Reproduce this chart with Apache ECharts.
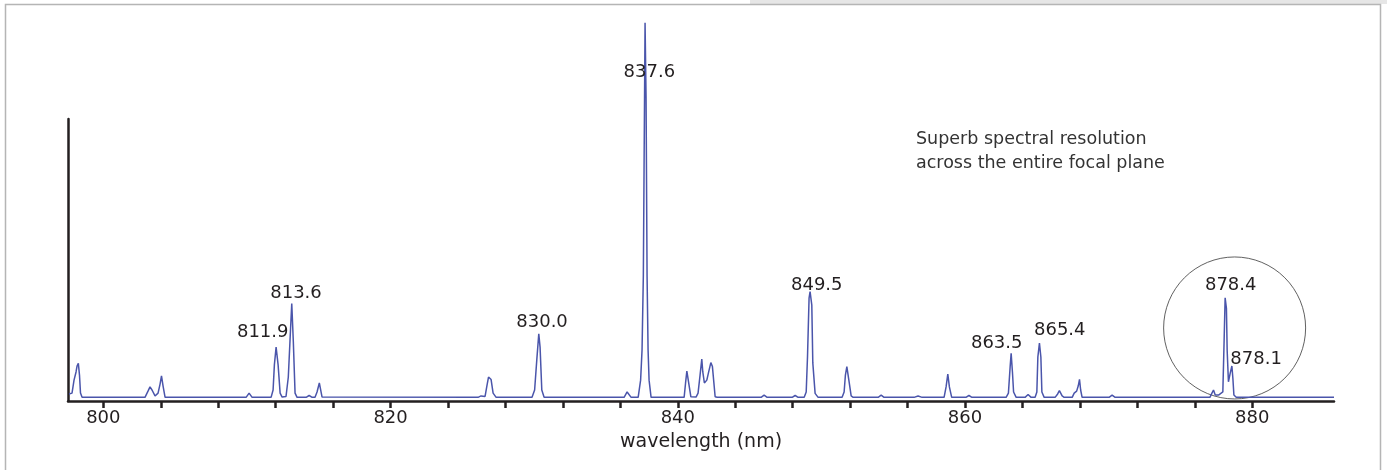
<!DOCTYPE html>
<html>
<head>
<meta charset="utf-8">
<script src="https://cdn.jsdelivr.net/npm/echarts@6/dist/echarts.min.js"></script>
<style>
  html, body { margin: 0; padding: 0; background: #fff; }
  #chart { width: 1387px; height: 470px; }
</style>
</head>
<body>
<div id="chart"></div>
<script>
// spectrum vertices, wavelength (nm) and intensity (arb. units, axis top = 100)
var wavelengths = [
  797.61, 797.82, 797.96, 798.10, 798.17, 798.26, 798.34, 798.41, 798.52,
  802.90, 803.11, 803.25, 803.39, 803.60, 803.81, 803.95, 804.05, 804.16, 804.30,
  809.94, 810.15, 810.36,
  811.68, 811.82, 811.91, 812.03, 812.10, 812.17, 812.31, 812.45, 812.72, 812.88, 813.00, 813.12, 813.23, 813.35, 813.49,
  814.12, 814.33, 814.54, 814.74, 814.88, 815.04, 815.23,
  826.09, 826.30, 826.58, 826.72, 826.82, 827.00, 827.14, 827.35,
  829.85, 830.03, 830.18, 830.32, 830.41, 830.53, 830.69,
  836.26, 836.47, 836.56, 836.75,
  837.24, 837.41, 837.51, 837.60, 837.65, 837.72, 837.79, 837.86, 837.93, 838.00, 838.14,
  840.44, 840.54, 840.63, 840.74, 840.91, 841.27, 841.41, 841.55, 841.67, 841.74, 841.85, 842.02, 842.13, 842.30, 842.41, 842.60, 842.74,
  845.80, 846.01, 846.22,
  847.96, 848.17, 848.38,
  848.80, 848.94, 849.03, 849.14, 849.21, 849.33, 849.40, 849.56, 849.77,
  851.44, 851.58, 851.67, 851.77, 851.91, 852.07, 852.21,
  853.95, 854.16, 854.36,
  856.45, 856.73, 857.01,
  858.54, 858.68, 858.80, 858.91, 859.07,
  860.06, 860.27, 860.48,
  862.86, 863.02, 863.14, 863.21, 863.30, 863.38, 863.56,
  864.18, 864.39, 864.60,
  864.88, 865.00, 865.07, 865.18, 865.28, 865.35, 865.51,
  866.27, 866.45, 866.57, 866.76, 866.90,
  867.46, 867.60, 867.77, 867.88, 867.97, 868.05, 868.15,
  870.03, 870.24, 870.45,
  877.05, 877.19, 877.30, 877.42, 877.65, 877.95, 878.04, 878.11, 878.20, 878.25, 878.34, 878.46, 878.58, 878.65, 878.72, 878.88,
  885.69
];
var intensity = [
  2.5, 2.8, 7.4, 10.3, 12.4, 13.4, 9.2, 2.8, 1.3,
  1.3, 3.5, 5.0, 3.9, 1.8, 2.8, 6.0, 8.9, 5.3, 1.3,
  1.3, 2.8, 1.3,
  1.3, 3.9, 12.8, 19.1, 18.8, 12.8, 2.8, 1.4, 1.6, 8.5, 21.6, 34.6, 20.9, 2.8, 1.3,
  1.3, 1.95, 1.3, 1.3, 3.2, 6.4, 1.4,
  1.3, 1.8, 1.6, 5.7, 8.5, 7.6, 2.8, 1.3,
  1.3, 3.9, 14.5, 23.8, 19.1, 3.9, 1.3,
  1.3, 3.2, 3.5, 1.3,
  1.3, 7.4, 18.1, 44.3, 81.9, 134.1, 107.6, 44.3, 18.1, 7.4, 1.3,
  1.3, 6.4, 10.6, 9.9, 1.5, 1.4, 2.8, 9.2, 14.9, 10.3, 6.4, 7.4, 9.9, 13.6, 12.2, 1.5, 1.3,
  1.3, 2.1, 1.3,
  1.3, 1.95, 1.3,
  1.3, 3.2, 15.6, 36.5, 38.8, 34.0, 13.5, 2.7, 1.3,
  1.3, 3.2, 9.2, 12.2, 7.4, 1.8, 1.3,
  1.3, 2.1, 1.3,
  1.3, 1.8, 1.3,
  1.3, 5.0, 9.5, 5.0, 1.3,
  1.3, 1.95, 1.3,
  1.3, 2.8, 12.1, 16.9, 10.3, 3.2, 1.3,
  1.3, 2.3, 1.3,
  1.3, 3.2, 15.6, 20.5, 15.6, 3.2, 1.3,
  1.3, 2.5, 3.7, 1.8, 1.3,
  1.3, 2.8, 3.5, 5.3, 7.7, 3.9, 1.3,
  1.3, 2.1, 1.3,
  1.3, 2.8, 3.9, 2.1, 2.1, 3.2, 21.6, 36.6, 32.9, 18.1, 6.8, 9.8, 12.4, 8.0, 2.1, 1.3,
  1.3
];

// peak annotations
var peakLabels = ['811.9', '813.6', '830.0', '837.6', '849.5', '863.5', '865.4', '878.4', '878.1'];
var labelWave = [811.10, 813.42, 830.55, 838.02, 849.68, 862.21, 866.60, 878.50, 880.27];
var labelHeight = [24.3, 38.2, 27.9, 116.4, 41.0, 20.3, 25.1, 40.9, 14.8];

// ring drawn round the 878 doublet
var ringAt = [878.77, 25.9];

var tickValues = [800, 804, 808, 812, 816, 820, 824, 828, 832, 836, 840, 844, 848, 852, 856, 860, 864, 868, 872, 876, 880];
var tickLabels = [800, 820, 840, 860, 880];

var note = 'Superb spectral resolution\nacross the entire focal plane';

var ink = '#231f20';
var font = 'DejaVu Sans';

var chart = echarts.init(document.getElementById('chart'));

var lineData = wavelengths.map(function (w, i) { return [w, intensity[i]]; });
var labelData = peakLabels.map(function (t, i) { return [labelWave[i], labelHeight[i], t]; });

var option = {
  animation: false,
  backgroundColor: '#fff',
  grid: {
    left: 68,
    right: 53,
    top: 119,
    bottom: 69,
    containLabel: false,
    outerBoundsMode: 'none'
  },
  title: {
    text: note,
    left: 916,
    top: 127,
    padding: 0,
    textStyle: {
      fontFamily: font,
      fontSize: 17.5,
      fontWeight: 'normal',
      color: '#333',
      lineHeight: 24
    }
  },
  xAxis: {
    type: 'value',
    min: 797.54,
    max: 885.69,
    name: 'wavelength (nm)',
    nameLocation: 'middle',
    nameGap: 32,
    nameTextStyle: { fontFamily: font, fontSize: 19, color: ink },
    axisLine: { show: true, onZero: false, lineStyle: { color: ink, width: 2.5 } },
    axisTick: {
      show: true,
      inside: false,
      length: 7,
      customValues: tickValues,
      lineStyle: { color: ink, width: 2.5 }
    },
    axisLabel: {
      show: true,
      customValues: tickLabels,
      margin: 8,
      fontFamily: font,
      fontSize: 18,
      color: ink
    },
    splitLine: { show: false }
  },
  yAxis: {
    type: 'value',
    min: 0,
    max: 100,
    axisLine: { show: true, lineStyle: { color: ink, width: 2.5 } },
    axisTick: { show: false },
    axisLabel: { show: false },
    splitLine: { show: false }
  },
  series: [
    {
      name: 'spectrum',
      type: 'line',
      data: lineData,
      clip: false,
      symbol: 'none',
      lineStyle: { color: '#4a55ab', width: 1.5 },
      z: 3
    },
    {
      name: 'peaks',
      type: 'scatter',
      data: labelData,
      symbolSize: 0.1,
      itemStyle: { color: 'rgba(0,0,0,0)' },
      clip: false,
      label: {
        show: true,
        position: [0, 0],
        align: 'center',
        verticalAlign: 'middle',
        formatter: function (p) { return p.data[2]; },
        fontFamily: font,
        fontSize: 18,
        color: ink,
        opacity: 1,
        textBorderWidth: 0
      },
      z: 4
    },
    {
      name: 'ring',
      type: 'scatter',
      data: [ringAt],
      symbol: 'circle',
      symbolSize: 142,
      clip: false,
      itemStyle: { color: 'rgba(0,0,0,0)', borderColor: '#3a3a3a', borderWidth: 1 },
      z: 2
    }
  ],
  graphic: [
    {
      type: 'rect',
      shape: { x: 750, y: 0, width: 637, height: 4 },
      style: { fill: '#e6e6e6' },
      silent: true
    },
    {
      type: 'polyline',
      shape: { points: [[5.5, 470], [5.5, 4.5], [1380.5, 4.5], [1380.5, 470]] },
      style: { stroke: '#b5b5b5', lineWidth: 1.5, fill: null },
      silent: true
    }
  ]
};

chart.setOption(option);
</script>
</body>
</html>
